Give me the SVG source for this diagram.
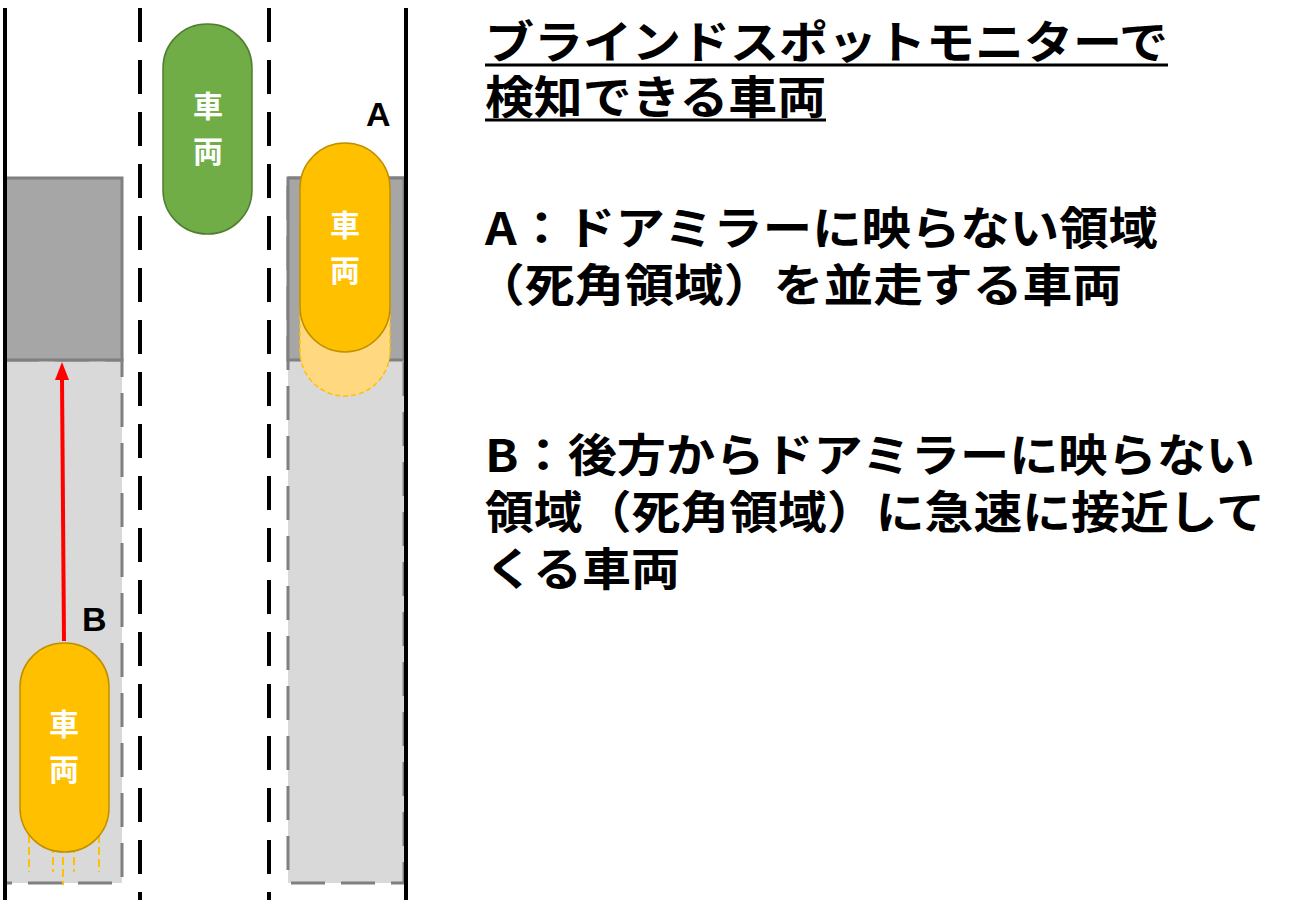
<svg xmlns="http://www.w3.org/2000/svg" width="1299" height="903" viewBox="0 0 1299 903">
<style>
.t{font-family:"Noto Sans CJK JP","Liberation Sans",sans-serif;font-weight:bold;fill:#000;font-size:45px}
.c{font-family:"Noto Sans CJK JP",sans-serif;font-weight:bold;fill:#fff;font-size:30px;text-anchor:middle}
.dl{stroke:#000;stroke-width:4;stroke-dasharray:34,18}
.car{fill:#ffc000;stroke:#c09000;stroke-width:1.5}
</style>
<rect width="1299" height="903" fill="#fff"/>
<g id="road">
<rect x="5" y="360" width="117" height="523" fill="#d9d9d9" stroke="#808080" stroke-width="3" stroke-dasharray="34,16"/>
<rect x="5" y="178" width="117" height="182" fill="#a6a6a6" stroke="#808080" stroke-width="3"/>
<rect x="288" y="178" width="116" height="705" fill="#d9d9d9" stroke="#808080" stroke-width="3" stroke-dasharray="34,16"/>
<rect x="288" y="178" width="116" height="182" fill="#a6a6a6" stroke="#808080" stroke-width="3"/>
<line x1="5" y1="8" x2="5" y2="900" stroke="#000" stroke-width="4"/>
<line x1="406" y1="8" x2="406" y2="900" stroke="#000" stroke-width="4"/>
<line x1="140" y1="8" x2="140" y2="900" class="dl"/>
<line x1="269" y1="8" x2="269" y2="900" class="dl"/>
</g>
<g id="carGreen">
<rect x="163" y="24" width="89" height="210" rx="44" fill="#70ad47" stroke="#507e32" stroke-width="1.5"/>
<text class="c" x="208" y="117">車</text><text class="c" x="208" y="162">両</text>
</g>
<g id="carA">
<rect x="300" y="188" width="90" height="208" rx="45" fill="#ffd880" stroke="#ffc000" stroke-width="1.5" stroke-dasharray="5,3"/>
<rect class="car" x="300" y="143" width="90" height="209" rx="45"/>
<text class="c" x="345" y="236">車</text><text class="c" x="345" y="281">両</text>
<text class="t" x="366" y="126" style="font-family:'Liberation Sans',sans-serif;font-size:34px">A</text>
</g>
<g id="carB">
<g stroke="#ffc000" stroke-width="2" stroke-dasharray="8,4">
<line x1="29" y1="835" x2="29" y2="872"/><line x1="53" y1="845" x2="53" y2="872"/><line x1="63" y1="845" x2="63" y2="885"/><line x1="74" y1="845" x2="74" y2="872"/><line x1="99" y1="835" x2="99" y2="872"/>
</g>
<rect class="car" x="20" y="643" width="89" height="209" rx="44"/>
<text class="c" x="64" y="735">車</text><text class="c" x="64" y="780">両</text>
<text class="t" x="82" y="631" style="font-family:'Liberation Sans',sans-serif;font-size:34px">B</text>
</g>
<g id="connectors">
<line x1="64" y1="641" x2="62" y2="378" stroke="#f00" stroke-width="4"/>
<polygon points="62,362 55,380 69,380" fill="#f00"/>
</g>
<g id="texts">
<text class="t" x="485" y="59" textLength="683" lengthAdjust="spacingAndGlyphs">ブラインドスポットモニターで</text>
<line x1="485" y1="65" x2="1168" y2="65" stroke="#000" stroke-width="3"/>
<text class="t" x="485" y="114" textLength="341" lengthAdjust="spacingAndGlyphs">検知できる車両</text>
<line x1="485" y1="120" x2="826" y2="120" stroke="#000" stroke-width="3"/>
<text class="t" x="485" y="245" textLength="673" lengthAdjust="spacingAndGlyphs">A：ドアミラーに映らない領域</text>
<text class="t" x="475" y="302" textLength="647" lengthAdjust="spacingAndGlyphs">（死角領域）を並走する車両</text>
<text class="t" x="485" y="472" textLength="770" lengthAdjust="spacingAndGlyphs">B：後方からドアミラーに映らない</text>
<text class="t" x="485" y="529" textLength="780" lengthAdjust="spacingAndGlyphs">領域（死角領域）に急速に接近して</text>
<text class="t" x="485" y="586" textLength="195" lengthAdjust="spacingAndGlyphs">くる車両</text>
</g>
</svg>
